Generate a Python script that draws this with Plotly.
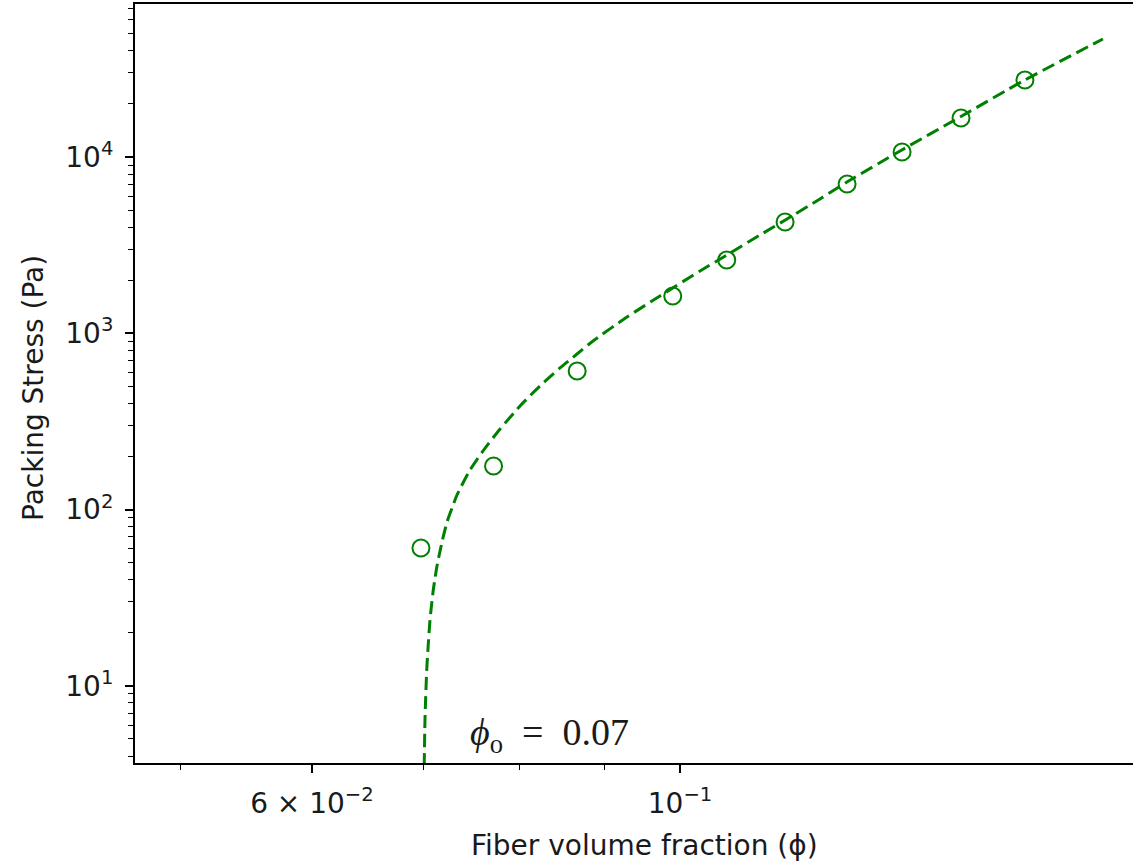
import numpy as np
import plotly.graph_objects as go

phi_data = [0.0698, 0.0772, 0.0867, 0.0990, 0.1067, 0.1157, 0.1261, 0.1361, 0.1477, 0.1614]
stress_data = [60.6, 176.7, 611, 1628, 2606, 4279, 7031, 10670, 16640, 27330]

# Fitted curve
phi_fit = [0.07008, 0.07012, 0.07019, 0.07036, 0.07049, 0.07068, 0.07098, 0.07118, 0.07137,
           0.07187, 0.07237, 0.07288, 0.07338, 0.07472, 0.07608, 0.07790, 0.08009, 0.08234,
           0.08466, 0.08668, 0.08863, 0.09291, 0.09726, 0.10282, 0.10674, 0.11174, 0.11601,
           0.12144, 0.12608, 0.13572, 0.14751, 0.16099, 0.17986]
stress_fit = [2.741, 3.65, 6.408, 12.31, 16.41, 23.64, 34.09, 40.93, 47.9,
              65.5, 85.05, 102.1, 121.0, 167.8, 215.0, 286.6, 386.9, 502.5,
              635.8, 763.0, 904.3, 1237, 1628, 2256, 2781, 3610, 4449,
              5779, 7215, 10815, 16860, 26990, 46700]

x_tickvals = [0.06, 0.1]
x_ticktext = ["6 \u00d7 10<sup>\u22122</sup>", "10<sup>\u22121</sup>"]
x_minor = [0.05, 0.07, 0.08, 0.09]
y_tickvals = [10, 100, 1000, 10000]
y_ticktext = ["10<sup>1</sup>", "10<sup>2</sup>", "10<sup>3</sup>", "10<sup>4</sup>"]
y_minor = [m * 10 ** e for e in range(0, 5) for m in range(2, 10)]

phi0_label = "<i>\u03d5</i><sub>o</sub>\u2002=\u20020.07"
phi0_pos = (0.0745, 5.27)

GREEN = "#008000"
FONT = "DejaVu Sans"
FS = 28
TXT = "#1a1a1a"

fig = go.Figure()
fig.add_trace(go.Scatter(
    x=phi_fit, y=stress_fit, mode="lines", line_shape="spline",
    line=dict(color=GREEN, width=3, dash="13px,6px", smoothing=0.6),
    showlegend=False, hoverinfo="skip"))
fig.add_trace(go.Scatter(
    x=phi_data, y=stress_data, mode="markers",
    marker=dict(symbol="circle-open", size=17, color=GREEN, line=dict(width=2, color=GREEN)),
    showlegend=False))

L, R, T, B = 135, 0, 4, 99
W, H = 1133, 862
fig.update_layout(
    width=W, height=H, autosize=False,
    margin=dict(l=L, r=R, t=T, b=B),
    paper_bgcolor="white", plot_bgcolor="white",
    font=dict(family=FONT, size=FS, color=TXT),
    xaxis=dict(
        type="log", range=[-1.32851, -0.72694],
        showgrid=False, zeroline=False,
        showline=True, linecolor="black", linewidth=2, mirror=True,
        ticks="outside", ticklen=8, tickwidth=1.5, tickcolor="black",
        tickmode="array", tickvals=x_tickvals, ticktext=x_ticktext,
        tickfont=dict(family=FONT, size=FS, color=TXT), ticklabelstandoff=6,
        minor=dict(tickmode="array", tickvals=x_minor, ticks="outside",
                   ticklen=5, tickwidth=1.2, tickcolor="black", showgrid=False),
    ),
    yaxis=dict(
        type="log", range=[0.5627, 4.8678],
        showgrid=False, zeroline=False,
        showline=True, linecolor="black", linewidth=2, mirror=False,
        ticks="outside", ticklen=8, tickwidth=1.5, tickcolor="black",
        tickmode="array", tickvals=y_tickvals, ticktext=y_ticktext,
        tickfont=dict(family=FONT, size=FS, color=TXT), ticklabelstandoff=6,
        minor=dict(tickmode="array", tickvals=y_minor, ticks="outside",
                   ticklen=5, tickwidth=1.2, tickcolor="black", showgrid=False),
    ),
)

pw = W - L - R
ph = H - T - B
fig.add_annotation(
    text="Fiber volume fraction (\u03d5)", xref="paper", yref="paper",
    x=(644 - L) / pw, y=(H - B - 845) / ph, xanchor="center", yanchor="middle",
    showarrow=False, font=dict(family=FONT, size=FS, color=TXT))
fig.add_annotation(
    text="Packing Stress (Pa)", xref="paper", yref="paper",
    x=(33 - L) / pw, y=(H - B - 388) / ph, xanchor="center", yanchor="middle",
    textangle=-90, showarrow=False, font=dict(family=FONT, size=FS, color=TXT))
fig.add_annotation(
    text=phi0_label, x=np.log10(phi0_pos[0]), y=np.log10(phi0_pos[1]),
    xref="x", yref="y", xanchor="left", yanchor="middle", showarrow=False,
    font=dict(family="Liberation Serif", size=38, color=TXT))

fig.write_html("out.html", config={"displayModeBar": False},
               post_script="document.body.style.margin='0px';")
